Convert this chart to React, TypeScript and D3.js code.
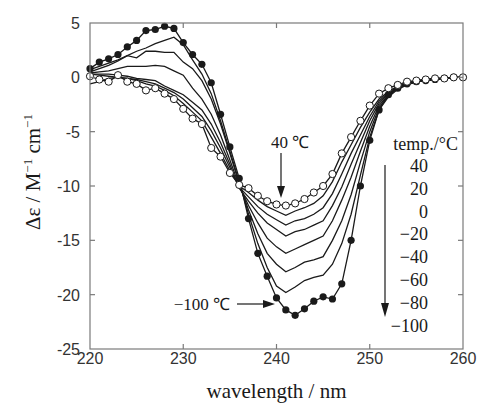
import React from "react";
import * as d3 from "d3";

const wavelengths = d3.range(220, 261);
const xTicks = [220, 230, 240, 250, 260];
const yTicks = [5, 0, -5, -10, -15, -20, -25];
const legendTemps = ["40", "20", "0", "−20", "−40", "−60", "−80", "−100"];

// 40 °C (open circles)
const t40 = [0.1, -0.2, -0.4, 0.2, -0.4, -0.6, -1.2, -1.0, -1.5, -2.0, -2.9, -3.8, -4.3, -6.5, -7.3, -8.8, -9.9, -10.2, -10.9, -11.4, -11.7, -11.8, -11.6, -11.2, -10.6, -10.0, -8.9, -7.0, -5.5, -4.0, -2.6, -1.5, -1.0, -0.7, -0.4, -0.3, -0.2, -0.1, -0.1, 0.0, 0.0];
const t20 = [-0.6, -0.4, -0.1, 0.0, -0.1, -0.3, -0.6, -0.8, -1.2, -1.7, -2.4, -3.2, -4.0, -5.5, -7.0, -8.6, -10.0, -10.6, -11.3, -11.9, -12.3, -12.7, -12.3, -12.0, -11.6, -10.9, -9.6, -7.8, -6.2, -4.6, -3.2, -2.0, -1.3, -0.8, -0.5, -0.3, -0.2, -0.1, -0.1, 0.0, 0.0];
const t0 = [0.3, 0.2, 0.1, 0.0, -0.1, -0.2, -0.4, -0.6, -1.0, -1.4, -2.0, -2.8, -3.6, -4.9, -6.5, -8.3, -10.1, -11.0, -11.9, -12.6, -13.1, -13.6, -13.2, -13.0, -12.6, -12.0, -10.7, -8.9, -7.0, -5.3, -3.6, -2.2, -1.4, -0.9, -0.6, -0.4, -0.2, -0.1, -0.1, 0.0, 0.0];
const tm20 = [0.3, 0.3, 0.3, 0.2, 0.1, -0.1, -0.2, -0.3, -0.8, -1.2, -1.6, -2.3, -3.0, -4.3, -6.0, -8.0, -10.2, -11.4, -12.5, -13.4, -14.0, -14.6, -14.2, -14.0, -13.6, -13.2, -11.8, -10.1, -8.0, -6.0, -4.0, -2.4, -1.5, -1.0, -0.6, -0.4, -0.2, -0.1, -0.1, 0.0, 0.0];
const tm40 = [0.4, 0.5, 0.6, 0.8, 1.0, 1.0, 1.0, 1.1, 1.0, 0.6, 0.2, -1.0, -2.0, -3.4, -5.3, -7.6, -10.0, -11.8, -13.4, -14.8, -15.6, -16.2, -15.8, -15.4, -15.0, -14.6, -13.2, -11.3, -9.2, -6.8, -4.5, -2.6, -1.6, -1.0, -0.6, -0.4, -0.3, -0.2, -0.1, 0.0, 0.0];
const tm60 = [0.5, 0.8, 1.1, 1.5, 2.0, 1.8, 2.4, 2.4, 2.3, 2.3, 1.4, 0.8, -0.3, -2.0, -4.3, -7.0, -9.8, -12.2, -14.4, -16.2, -17.2, -17.9, -17.5, -17.0, -16.8, -16.5, -15.0, -13.2, -10.8, -7.8, -5.0, -2.8, -1.7, -1.0, -0.7, -0.4, -0.3, -0.2, -0.1, 0.0, 0.0];
const tm80 = [0.7, 1.0, 1.3, 1.6, 2.0, 2.4, 2.7, 3.1, 3.4, 3.7, 3.0, 1.6, 0.3, -1.5, -4.0, -6.8, -9.6, -12.6, -15.3, -17.5, -19.2, -19.8, -19.3, -18.7, -18.4, -18.2, -17.2, -15.3, -12.6, -9.0, -5.5, -3.0, -1.8, -1.1, -0.7, -0.4, -0.3, -0.2, -0.1, 0.0, 0.0];
// -100 °C (filled circles)
const tm100 = [0.8, 1.4, 1.7, 2.1, 2.8, 3.4, 4.3, 4.4, 4.7, 4.5, 3.2, 2.1, 1.2, -0.5, -3.4, -6.4, -9.3, -13.0, -16.2, -18.3, -20.3, -21.4, -21.9, -21.3, -20.6, -20.2, -20.4, -19.0, -15.0, -10.0, -5.8, -3.0, -1.6, -1.0, -0.6, -0.4, -0.3, -0.2, -0.1, 0.0, 0.0];

const lineSeries = [t20, t0, tm20, tm40, tm60, tm80];

const L = 90, R = 463, T = 23, B = 349;
const x = d3.scaleLinear().domain([220, 260]).range([L, R]);
const y = d3.scaleLinear().domain([5, -25]).range([T, B]);

const lineGen = d3
  .line<number>()
  .x((_, i) => x(wavelengths[i]))
  .y((d) => y(d));

const sans = "'Liberation Sans', Arial, sans-serif";
const serif = "'Liberation Serif', 'Times New Roman', serif";
const axisColor = "#7a7a7a";
const ink = "#1a1a1a";

export default function App() {
  const tickLen = 5;
  const legendY0 = 172;
  const legendStep = 22.8;
  return (
    <svg width={478} height={407} style={{ position: "absolute", left: 0, top: 0 }}>
      <rect x={0} y={0} width={478} height={407} fill="#fff" />
      {/* curves */}
      {[t40, ...lineSeries, tm100].map((s, k) => (
        <path key={k} d={lineGen(s) || ""} fill="none" stroke={ink} strokeWidth={1.3} />
      ))}
      {tm100.map((v, i) => (
        <circle key={"f" + i} cx={x(wavelengths[i])} cy={y(v)} r={3.6} fill={ink} />
      ))}
      {t40.map((v, i) => (
        <circle key={"o" + i} cx={x(wavelengths[i])} cy={y(v)} r={3.6} fill="#fff" stroke={ink} strokeWidth={1} />
      ))}
      {/* frame */}
      <rect x={L} y={T} width={R - L} height={B - T} fill="none" stroke={axisColor} strokeWidth={1.2} />
      {xTicks.slice(1, -1).map((t) => (
        <g key={"xt" + t}>
          <line x1={x(t)} x2={x(t)} y1={B} y2={B - tickLen} stroke={axisColor} strokeWidth={1.2} />
          <line x1={x(t)} x2={x(t)} y1={T} y2={T + tickLen} stroke={axisColor} strokeWidth={1.2} />
        </g>
      ))}
      {yTicks.slice(1, -1).map((t) => (
        <g key={"yt" + t}>
          <line x1={L} x2={L + tickLen} y1={y(t)} y2={y(t)} stroke={axisColor} strokeWidth={1.2} />
          <line x1={R} x2={R - tickLen} y1={y(t)} y2={y(t)} stroke={axisColor} strokeWidth={1.2} />
        </g>
      ))}
      {xTicks.map((t) => (
        <text key={"xl" + t} x={x(t)} y={B + 15} textAnchor="middle" fontFamily={sans} fontSize={16} fill="#333">
          {t}
        </text>
      ))}
      {yTicks.map((t) => (
        <text key={"yl" + t} x={L - 10} y={y(t) + 6} textAnchor="end" fontFamily={sans} fontSize={16} fill="#333">
          {t}
        </text>
      ))}
      {/* axis titles */}
      <text x={(L + R) / 2} y={398} textAnchor="middle" fontFamily={serif} fontSize={21} fill={ink}>
        wavelength / nm
      </text>
      <text transform={`translate(40,172) rotate(-90)`} textAnchor="middle" fontFamily={serif} fontSize={21} fill={ink}>
        Δε / M<tspan dy={-8} fontSize={13}>−1</tspan>
        <tspan dy={8}> cm</tspan>
        <tspan dy={-8} fontSize={13}>−1</tspan>
      </text>
      {/* annotations */}
      <text x={290} y={148} textAnchor="middle" fontFamily={serif} fontSize={17} fill={ink}>
        40 ℃
      </text>
      <line x1={281} x2={281} y1={153} y2={188} stroke={ink} strokeWidth={1.2} />
      <path d={`M${277},${186} L${285},${186} L${281},${198} Z`} fill={ink} />
      <text x={230} y={310} textAnchor="end" fontFamily={serif} fontSize={17} fill={ink}>
        −100 ℃
      </text>
      <line x1={237} x2={265} y1={304} y2={304} stroke={ink} strokeWidth={1.2} />
      <path d={`M${263},${300} L${263},${308} L${275},${304} Z`} fill={ink} />
      {/* legend */}
      <text x={458} y={150} textAnchor="end" fontFamily={serif} fontSize={18} fill={ink}>
        temp./°C
      </text>
      {legendTemps.map((t, i) => (
        <text key={"lg" + t} x={428} y={legendY0 + i * legendStep} textAnchor="end" fontFamily={serif} fontSize={18} fill={ink}>
          {t}
        </text>
      ))}
      <line x1={385} x2={385} y1={165} y2={305} stroke={ink} strokeWidth={1.2} />
      <path d={`M${381},${303} L${389},${303} L${385},${317} Z`} fill={ink} />
    </svg>
  );
}
